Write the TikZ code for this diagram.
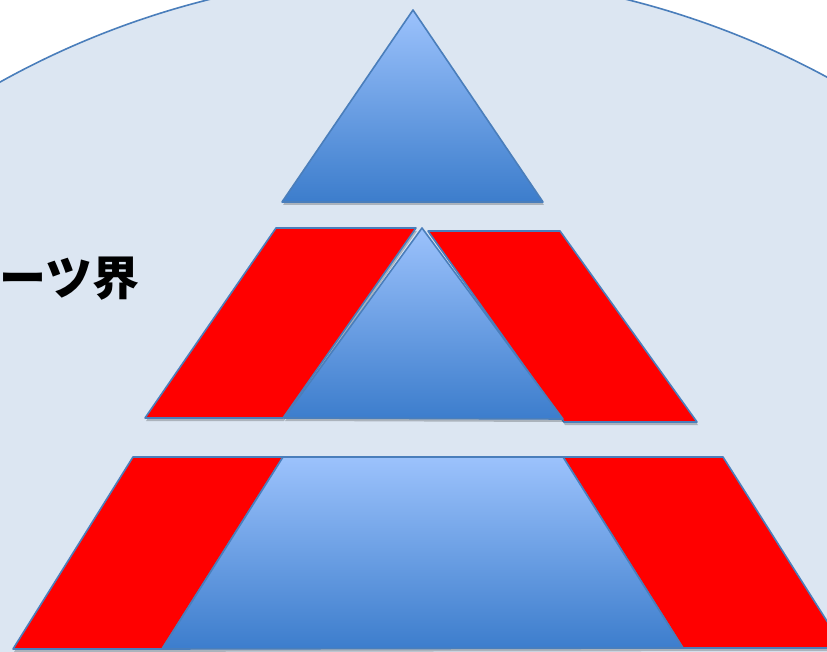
\documentclass[tikz,border=0pt]{standalone}
\usepackage{fontspec}
\newfontfamily\cjk{Noto Sans CJK JP}
\definecolor{bgblue}{HTML}{DCE6F2}
\definecolor{edgeblue}{HTML}{4A7EBB}
\definecolor{gradtop}{HTML}{9CC2FC}
\definecolor{gradbot}{HTML}{3C7DCC}
\tikzset{
  bluepiece/.style={draw=edgeblue, line width=1.6pt, line join=round, top color=gradtop, bottom color=gradbot},
  redpiece/.style={draw=edgeblue, line width=1.6pt, line join=round, fill=red},
  shadowpiece/.style={fill=black, opacity=0.22, shift={(1,3)}},
  label/.style={inner sep=0pt, font=\cjk\bfseries\fontsize{47}{52}\selectfont, text=black}
}
\begin{document}
\begin{tikzpicture}[x=1pt, y=-1pt]
  \useasboundingbox (0,0) rectangle (827,652);
  \clip (0,0) rectangle (827,652);
  \fill[white] (0,0) rectangle (827,652);
  % large background circle
  \draw[fill=bgblue, draw=edgeblue, line width=1.6pt] (418,835) circle[radius=861pt];

  % label
  \node[label, anchor=base west] (title) at (-1,295) {ーツ界};

  % top triangle
  \fill[shadowpiece] (413,10) -- (282,202) -- (543,202) -- cycle;
  \path[bluepiece] (413,10) -- (282,202) -- (543,202) -- cycle;

  % middle layer
  \fill[shadowpiece] (276,228) -- (416,228) -- (283,418) -- (145,418) -- cycle;
  \fill[shadowpiece] (428,231) -- (560,231) -- (697,422) -- (564,422) -- cycle;
  \path[redpiece] (276,228) -- (416,228) -- (283,418) -- (145,418) -- cycle;
  \path[redpiece] (428,231) -- (560,231) -- (697,422) -- (564,422) -- cycle;
  \fill[shadowpiece] (422,228) -- (563,419) -- (284,418) -- cycle;
  \path[bluepiece] (422,228) -- (563,419) -- (284,418) -- cycle;

  % bottom layer
  \fill[shadowpiece] (133,457) -- (723,457) -- (844,648) -- (13,649) -- cycle;
  \path[redpiece] (133,457) -- (283,457) -- (162,649) -- (13,649) -- cycle;
  \path[redpiece] (563,457) -- (723,457) -- (844,648) -- (683,648) -- cycle;
  \path[bluepiece] (283,457) -- (563,457) -- (683,648) -- (162,649) -- cycle;
\end{tikzpicture}
\end{document}
